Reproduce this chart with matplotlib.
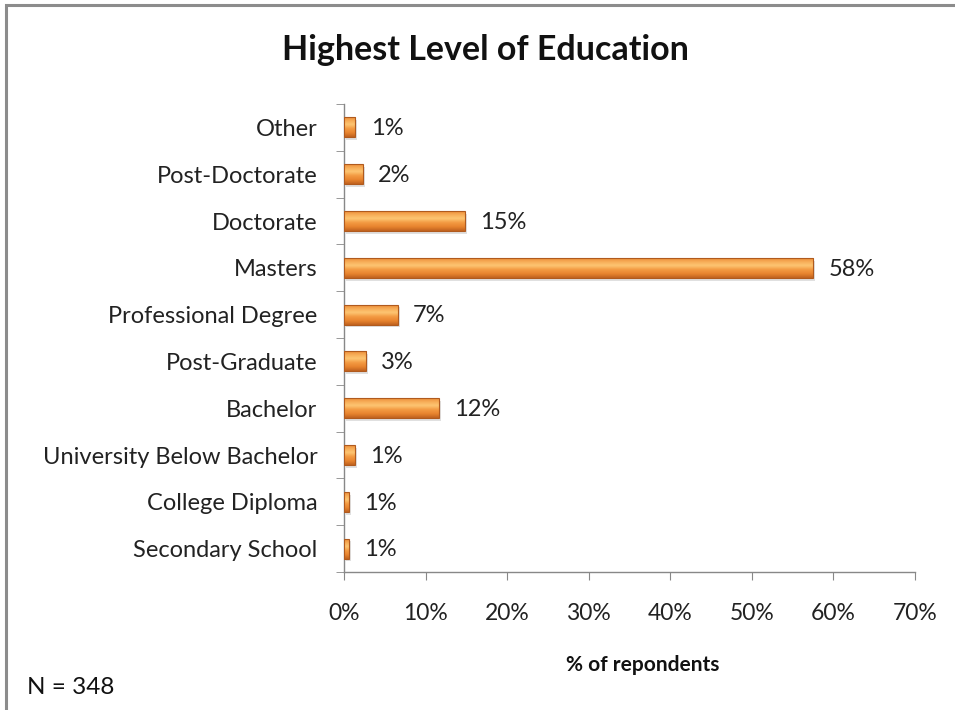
import matplotlib
matplotlib.use("Agg")
import matplotlib.pyplot as plt
import numpy as np
from matplotlib.colors import LinearSegmentedColormap
from matplotlib.patches import Rectangle
from matplotlib.ticker import PercentFormatter, FixedLocator

categories = ["Secondary School", "College Diploma", "University Below Bachelor",
              "Bachelor", "Post-Graduate", "Professional Degree", "Masters",
              "Doctorate", "Post-Doctorate", "Other"]
values = [0.6, 0.6, 1.3, 11.6, 2.7, 6.6, 57.5, 14.8, 2.3, 1.4]
x_ticks = [0, 10, 20, 30, 40, 50, 60, 70]

plt.rcParams["font.family"] = ["Lato", "DejaVu Sans"]

fig = plt.figure(figsize=(9.55, 7.1), dpi=100)
ax = fig.add_axes([344 / 955, 1 - 572 / 710, (915 - 344) / 955, (572 - 104) / 710])

# chart frame
fig.patches.append(Rectangle((6 / 955, -0.05), 1.1, 1 - 5 / 710 + 0.05,
                             transform=fig.transFigure, fill=False,
                             edgecolor="#8c8c8c", linewidth=2.2, zorder=0))

bar_h = 0.43
cmap = LinearSegmentedColormap.from_list(
    "bevel", ["#c0621f", "#e8842f", "#f39a42", "#fdc673", "#f7aa55", "#e8842f"])
grad = np.linspace(0, 1, 64).reshape(-1, 1)

y = np.arange(len(categories))
bars = ax.barh(y, values, height=bar_h, color="none", edgecolor="none", zorder=3)
for rect, v in zip(bars, values):
    x0, y0 = rect.get_x(), rect.get_y()
    w, h = rect.get_width(), rect.get_height()
    # soft shadow
    ax.add_patch(Rectangle((x0 + 0.25, y0 - 0.06), w, h, facecolor="#bbbbbb",
                           edgecolor="none", alpha=0.45, zorder=2))
    im = ax.imshow(grad, cmap=cmap, aspect="auto", origin="lower",
                   extent=(x0, x0 + w, y0, y0 + h), zorder=3, interpolation="bicubic")
    clip = Rectangle((x0, y0), w, h, transform=ax.transData)
    im.set_clip_path(clip)
    ax.add_patch(Rectangle((x0, y0), w, h, fill=False, edgecolor="#b05a1e",
                           linewidth=0.8, zorder=4))
    ax.annotate(f"{round(v):.0f}%", xy=(x0 + w, y0 + h / 2), xytext=(11, -1),
                textcoords="offset points", ha="left", va="center",
                fontsize=17, color="#222222")

ax.set_xlim(0, 70)
ax.set_ylim(-0.5, len(categories) - 0.5)
ax.set_xticks(x_ticks)
ax.xaxis.set_major_formatter(PercentFormatter(decimals=0))
ax.set_yticks(y)
ax.set_yticklabels(categories)
ax.yaxis.set_minor_locator(FixedLocator(np.arange(-0.5, len(categories), 1.0)))
ax.tick_params(axis="y", which="major", length=0, pad=19, labelsize=17,
               labelcolor="#222222")
ax.tick_params(axis="y", which="minor", length=6, color="#888888", direction="out")
ax.tick_params(axis="x", which="major", length=6, color="#888888", direction="out",
               labelsize=16.5, labelcolor="#222222", pad=16)

for side in ("top", "right"):
    ax.spines[side].set_visible(False)
for side in ("left", "bottom"):
    ax.spines[side].set_color("#888888")
    ax.spines[side].set_linewidth(1.0)

fig.text(643 / 955, 1 - 665 / 710, "% of repondents", ha="center", va="center",
         fontsize=15, fontweight="bold", color="#111111")
fig.text(485 / 955, 1 - 50 / 710, "Highest Level of Education", ha="center",
         va="center", fontsize=24.5, fontweight="bold", color="#111111")
fig.text(27 / 955, 1 - 688 / 710, "N = 348", ha="left", va="center",
         fontsize=17.5, color="#111111")

fig.savefig("out.png", dpi=100)
